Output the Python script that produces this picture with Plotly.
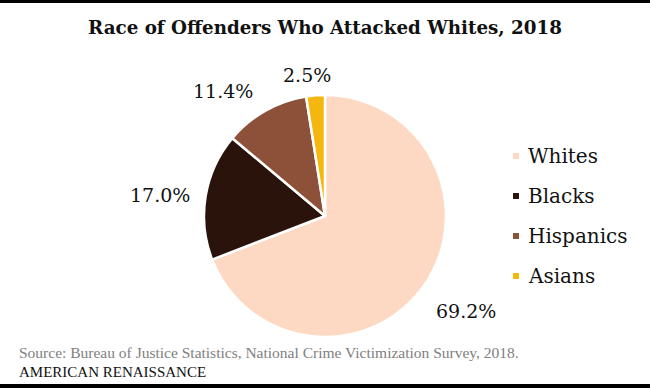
import math
import plotly.graph_objects as go

categories = ["Whites", "Blacks", "Hispanics", "Asians"]
shares = [69.2, 17.0, 11.4, 2.5]
colors = ["#FDD8C2", "#2A130B", "#8D5139", "#F5B70F"]
title_text = "Race of Offenders Who Attacked Whites, 2018"
source_text = "Source: Bureau of Justice Statistics, National Crime Victimization Survey, 2018."
brand_text = "AMERICAN RENAISSANCE"

W, H = 650, 388
SERIF = "DejaVu Serif"

cx, cy, r = 325, 216, 121  # pie placement in px
# label nudges (px) from each slice's outer mid-point
label_nudge = [(41, -27), (-46, 1), (-42, 20), (-9, 20)]

fig = go.Figure()
fig.add_trace(go.Pie(
    labels=categories,
    values=shares,
    sort=False,
    direction="clockwise",
    rotation=0,
    marker=dict(colors=colors, line=dict(color="white", width=2.5)),
    textinfo="none",
    showlegend=False,
    hoverinfo="label+percent",
    domain=dict(x=[(cx - r) / W, (cx + r) / W], y=[(H - cy - r) / H, (H - cy + r) / H]),
))

annotations = []
shapes = []

# percentage labels, anchored at each slice's mid angle
total = sum(shares)
cum = 0.0
for v, (nx, ny) in zip(shares, label_nudge):
    mid = (cum + v / 2) / total * 2 * math.pi
    cum += v
    px = cx + r * math.sin(mid)
    py = cy - r * math.cos(mid)
    annotations.append(dict(text=f"{v:.1f}%", xref="paper", yref="paper",
                            x=px / W, y=1 - py / H, xshift=nx, yshift=ny,
                            xanchor="center", yanchor="middle", showarrow=False,
                            font=dict(family=SERIF, size=19, color="#111111")))

# manual legend
leg_x_marker = 516
leg_x_text = 526
leg_y0 = 156
leg_dy = 40
for i, (name, col) in enumerate(zip(categories, colors)):
    y = leg_y0 + i * leg_dy
    shapes.append(dict(type="rect", xref="paper", yref="paper",
                       x0=(leg_x_marker - 3) / W, x1=(leg_x_marker + 3) / W,
                       y0=1 - (y + 3) / H, y1=1 - (y - 3) / H,
                       fillcolor=col, line=dict(width=0)))
    annotations.append(dict(text=name, xref="paper", yref="paper",
                            x=leg_x_text / W, y=1 - y / H, xanchor="left", yanchor="middle",
                            showarrow=False, font=dict(family=SERIF, size=20, color="#111111")))

annotations.append(dict(text=source_text, xref="paper", yref="paper",
                        x=17 / W, y=1 - 352.5 / H, xanchor="left", yanchor="middle",
                        showarrow=False, font=dict(family="Liberation Serif", size=15.5, color="#808080")))
annotations.append(dict(text=brand_text, xref="paper", yref="paper",
                        x=17 / W, y=1 - 372 / H, xanchor="left", yanchor="middle",
                        showarrow=False, font=dict(family="Liberation Serif", size=15, color="#111111")))

# thin black borders top and bottom
shapes.append(dict(type="rect", xref="paper", yref="paper", x0=0, x1=1, y0=1 - 3 / H, y1=1,
                   fillcolor="black", line=dict(width=0)))
shapes.append(dict(type="rect", xref="paper", yref="paper", x0=0, x1=1, y0=0, y1=4 / H,
                   fillcolor="black", line=dict(width=0)))

fig.update_layout(
    width=W, height=H,
    margin=dict(l=0, r=0, t=0, b=0),
    paper_bgcolor="white",
    plot_bgcolor="white",
    title=dict(text="<b>" + title_text + "</b>", x=0.5, xanchor="center",
               y=1 - 28 / H, yanchor="middle", yref="paper",
               font=dict(family=SERIF, size=18.3, color="#111111")),
    annotations=annotations,
    shapes=shapes,
)

fig.write_html("out.html", config={"displayModeBar": False},
               post_script="document.body.style.margin='0';document.body.style.overflow='hidden';")
